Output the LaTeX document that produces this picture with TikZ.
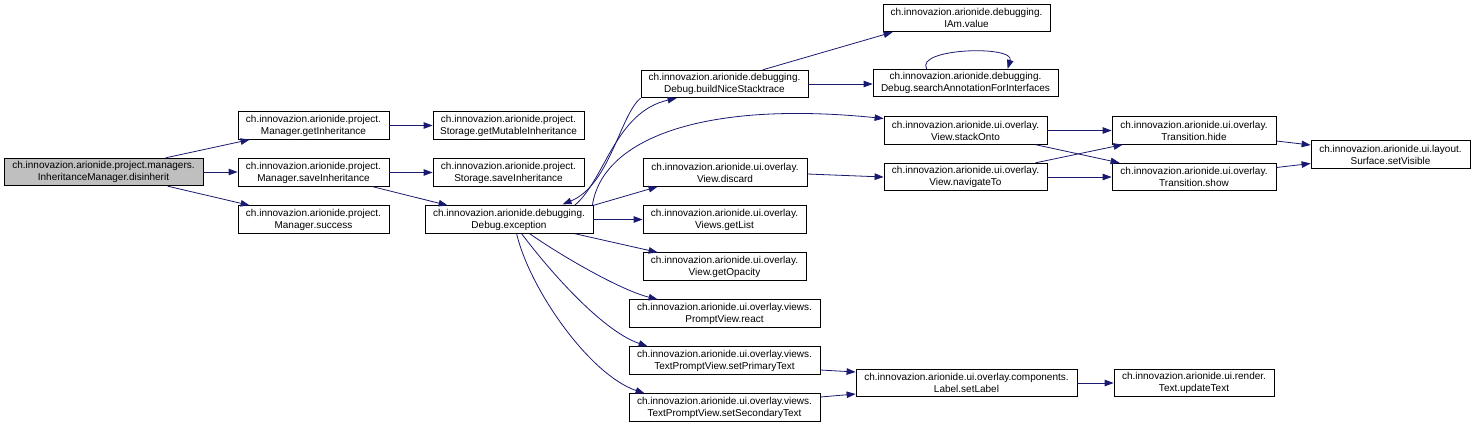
\documentclass[tikz,border=0pt]{standalone}
\usepackage{fontspec}
\setmainfont{Liberation Sans}
\usetikzlibrary{arrows.meta,calc}
\definecolor{edgeblue}{HTML}{191970}
\definecolor{rootgray}{HTML}{BFBFBF}
\begin{document}
\begin{tikzpicture}[x=1pt,y=-1pt,
  fbox/.style={draw=black, line width=0.8pt, rectangle, inner sep=0pt, minimum height=27.5pt, align=center, font=\fontsize{10}{12}\selectfont},
  call/.style={draw=edgeblue, line width=0.8pt, -{Triangle[length=9pt,width=6.5pt]}, fill=none}]
\useasboundingbox (0,0) rectangle (1474,426);
% nodes
\node[fbox, fill=rootgray, minimum width=199pt] (dis) at (103.5,172) {ch.innovazion.arionide.project.managers.\\InheritanceManager.disinherit};
\node[fbox, minimum width=151pt] (mgi) at (313.5,125.5) {ch.innovazion.arionide.project.\\Manager.getInheritance};
\node[fbox, minimum width=151pt] (msi) at (313.5,172.5) {ch.innovazion.arionide.project.\\Manager.saveInheritance};
\node[fbox, minimum width=151pt] (msu) at (313.5,219.5) {ch.innovazion.arionide.project.\\Manager.success};
\node[fbox, minimum width=151pt] (sgm) at (508.5,125.5) {ch.innovazion.arionide.project.\\Storage.getMutableInheritance};
\node[fbox, minimum width=151pt] (ssi) at (508.5,172.5) {ch.innovazion.arionide.project.\\Storage.saveInheritance};
\node[fbox, minimum width=168pt] (exc) at (509,219.5) {ch.innovazion.arionide.debugging.\\Debug.exception};
\node[fbox, minimum width=167pt] (bns) at (724.5,84) {ch.innovazion.arionide.debugging.\\Debug.buildNiceStacktrace};
\node[fbox, minimum width=167pt] (iam) at (966.5,18) {ch.innovazion.arionide.debugging.\\IAm.value};
\node[fbox, minimum width=185pt] (sai) at (965.5,83) {ch.innovazion.arionide.debugging.\\Debug.searchAnnotationForInterfaces};
\node[fbox, minimum width=163pt] (sto) at (965.5,130.5) {ch.innovazion.arionide.ui.overlay.\\View.stackOnto};
\node[fbox, minimum width=164pt] (vdi) at (725,172.5) {ch.innovazion.arionide.ui.overlay.\\View.discard};
\node[fbox, minimum width=163pt] (nav) at (965.5,177) {ch.innovazion.arionide.ui.overlay.\\View.navigateTo};
\node[fbox, minimum width=163pt] (vgl) at (724.5,219.5) {ch.innovazion.arionide.ui.overlay.\\Views.getList};
\node[fbox, minimum width=163pt] (vgo) at (724.5,266.5) {ch.innovazion.arionide.ui.overlay.\\View.getOpacity};
\node[fbox, minimum width=191pt] (rea) at (724.5,313.5) {ch.innovazion.arionide.ui.overlay.views.\\PromptView.react};
\node[fbox, minimum width=191pt] (spt) at (724.5,360.5) {ch.innovazion.arionide.ui.overlay.views.\\TextPromptView.setPrimaryText};
\node[fbox, minimum width=191pt] (sst) at (724.5,407.5) {ch.innovazion.arionide.ui.overlay.views.\\TextPromptView.setSecondaryText};
\node[fbox, minimum width=164pt] (hid) at (1194,130.5) {ch.innovazion.arionide.ui.overlay.\\Transition.hide};
\node[fbox, minimum width=164pt] (sho) at (1194,177) {ch.innovazion.arionide.ui.overlay.\\Transition.show};
\node[fbox, minimum width=159pt] (sur) at (1390.5,154.5) {ch.innovazion.arionide.ui.layout.\\Surface.setVisible};
\node[fbox, minimum width=221pt] (lbl) at (966.5,383) {ch.innovazion.arionide.ui.overlay.components.\\Label.setLabel};
\node[fbox, minimum width=160pt] (upd) at (1194,383) {ch.innovazion.arionide.ui.render.\\Text.updateText};
% edges from root
\draw[call] ($(dis.north west)+(162,0)$) -- ($(mgi.south west)+(12,0)$);
\draw[call] (dis.east) -- (dis.east -| msi.west);
\draw[call] ($(dis.south west)+(164,0)$) -- ($(msu.north west)+(12,0)$);
\draw[call] (mgi.east) -- (sgm.west);
\draw[call] (msi.east) -- (ssi.west);
\draw[call] ($(msi.south west)+(135,0)$) -- ($(exc.north west)+(23,0)$);
% Debug.exception
\draw[call] ($(exc.north west)+(150,0)$) .. controls (605,180) and (615,112) .. ($(bns.south west)+(36,0)$);
\draw[call] (bns.south west) .. controls (620,115) and (610,185) .. ($(exc.north west)+(138,-1)$);
\draw[call] ($(exc.north east)+(-1,0)$) .. controls (602,140) and (700,100) .. ($(sto.west)+(0,-12)$);
\draw[call] (exc.north east) -- ($(vdi.south west)+(15,0)$);
\draw[call] (exc.east) -- (vgl.west);
\draw[call] ($(exc.south west)+(150,0)$) -- ($(vgo.north west)+(15,0)$);
\draw[call] ($(exc.south west)+(105,0)$) .. controls (560,255) and (620,290) .. ($(rea.north west)+(29,0)$);
\draw[call] ($(exc.south west)+(97,0)$) .. controls (545,265) and (600,330) .. ($(spt.north west)+(19,0)$);
\draw[call] ($(exc.south west)+(92,0)$) .. controls (530,290) and (590,375) .. ($(sst.north west)+(16,0)$);
% buildNiceStacktrace
\draw[call] ($(bns.north west)+(122,0)$) -- ($(iam.south west)+(10,0)$);
\draw[call] (bns.east) -- (bns.east -| sai.west);
\draw[call] ($(sai.north west)+(54,0)$) .. controls (915,48) and (1015,45) .. ($(sai.north west)+(135,0)$);
% overlay views
\draw[call] ($(vdi.east)+(0,1.5)$) -- (nav.west);
\draw[call] (sto.east) -- (hid.west);
\draw[call] ($(sto.south east)+(-12,0)$) -- ($(sho.north west)+(8,0)$);
\draw[call] ($(nav.north east)+(-12,0)$) -- ($(hid.south west)+(11,0)$);
\draw[call] (nav.east) -- (sho.west);
\draw[call] ($(hid.east)+(0,10.5)$) -- ($(sur.west)+(0,-9.5)$);
\draw[call] ($(sho.east)+(0,-9.5)$) -- ($(sur.west)+(0,9)$);
% labels
\draw[call] ($(spt.east)+(0,9.5)$) -- ($(lbl.west)+(0,-11)$);
\draw[call] ($(sst.east)+(0,-10.5)$) -- ($(lbl.west)+(0,11)$);
\draw[call] (lbl.east) -- (upd.west);
\end{tikzpicture}
\end{document}
